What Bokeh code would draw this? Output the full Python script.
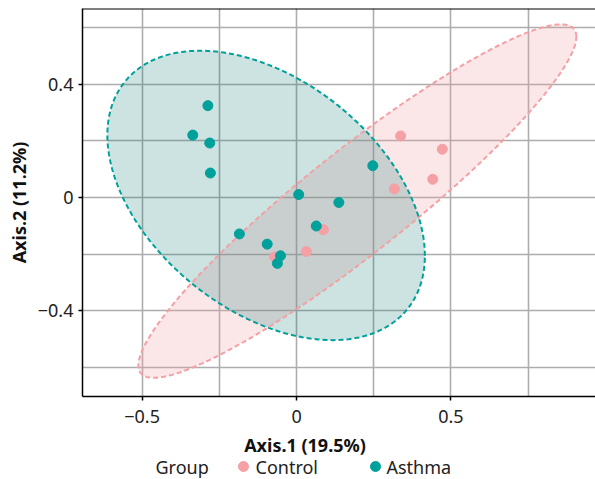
import numpy as np
from bokeh.plotting import figure
from bokeh.layouts import column
from bokeh.models import Range1d, FixedTicker, Span
from bokeh.core.properties import value
from bokeh.embed import file_html
from bokeh.resources import INLINE

# ---- data ----
control_x = [0.337, 0.472, 0.441, 0.317, 0.087, 0.032, -0.071]
control_y = [0.217, 0.170, 0.064, 0.030, -0.114, -0.191, -0.210]
asthma_x = [-0.287, -0.336, -0.281, -0.279, 0.247, 0.007, 0.137, 0.064, -0.185, -0.095, -0.052, -0.062]
asthma_y = [0.324, 0.220, 0.192, 0.086, 0.112, 0.010, -0.018, -0.101, -0.129, -0.165, -0.206, -0.233]

# confidence ellipses: centre x, centre y, x half-extent, y half-extent, correlation
control_ellipse = [0.197, -0.013, 0.709, 0.624, 0.93]
asthma_ellipse = [-0.0985, 0.007, 0.514, 0.511, -0.417]

groups = ["Control", "Asthma"]
x_ticks = [-0.5, 0.0, 0.5]
x_tick_labels = ["\u22120.5", "0", "0.5"]
x_minor = [-0.75, -0.25, 0.25, 0.75]
y_ticks = [-0.4, 0.0, 0.4]
y_tick_labels = ["\u22120.4", "0", "0.4"]
y_minor = [-0.6, -0.2, 0.2, 0.6]
x_title = "Axis.1 (19.5%)"
y_title = "Axis.2 (11.2%)"
legend_title = "Group"

PINK = "#F4A0A5"
TEAL = "#00A19A"
FONT = "Noto Sans"
FS = "18px"


def ellipse_path(params, n=240):
    cx, cy, sx, sy, rho = params
    t = np.linspace(0, 2 * np.pi, n)
    xs = cx + sx * np.cos(t)
    ys = cy + sy * (rho * np.cos(t) + np.sqrt(1 - rho ** 2) * np.sin(t))
    return xs, ys


p = figure(width=595, height=432, output_backend="svg", toolbar_location=None,
           x_range=Range1d(-0.693, 0.968), y_range=Range1d(-0.703, 0.667),
           min_border_left=82, min_border_right=0, min_border_top=8, min_border_bottom=36)
p.outline_line_color = None
p.background_fill_color = "white"
p.border_fill_color = "white"

# ellipses: fills first, then dashed outlines
cx_, cy_ = ellipse_path(control_ellipse)
ax_, ay_ = ellipse_path(asthma_ellipse)
p.patch(cx_, cy_, fill_color=PINK, fill_alpha=0.25, line_color=None)
p.patch(ax_, ay_, fill_color="#00736A", fill_alpha=0.2, line_color=None)
p.line(cx_, cy_, line_color=PINK, line_width=2, line_dash="5 3")
p.line(ax_, ay_, line_color=TEAL, line_width=2, line_dash="5 3")

p.scatter(control_x, control_y, size=10, fill_color=PINK, line_color=PINK)
p.scatter(asthma_x, asthma_y, size=10, fill_color=TEAL, line_color=TEAL)

# axes & grid
p.xaxis.ticker = FixedTicker(ticks=x_ticks, minor_ticks=x_minor)
p.yaxis.ticker = FixedTicker(ticks=y_ticks, minor_ticks=y_minor)
p.xaxis.major_label_overrides = dict(zip(x_ticks, x_tick_labels))
p.yaxis.major_label_overrides = dict(zip(y_ticks, y_tick_labels))
for ax in (p.xaxis, p.yaxis):
    ax.axis_line_color = "black"
    ax.axis_line_width = 1.5
    ax.major_tick_line_color = "black"
    ax.major_tick_line_width = 1.5
    ax.major_tick_out = 4
    ax.major_tick_in = 0
    ax.minor_tick_line_color = None
    ax.major_label_text_font = FONT
    ax.major_label_text_font_size = FS
    ax.major_label_text_color = "#222222"
p.xaxis.major_label_standoff = 9
p.yaxis.major_label_standoff = 5
p.yaxis.axis_label = y_title
p.yaxis.axis_label_text_font = FONT
p.yaxis.axis_label_text_font_size = FS
p.yaxis.axis_label_text_font_style = "bold"
p.yaxis.axis_label_text_color = "#111111"
p.yaxis.axis_label_standoff = 4

for g in (p.xgrid, p.ygrid):
    g.grid_line_color = "#ADADAD"
    g.grid_line_width = 1.6
    g.minor_grid_line_color = "#ADADAD"
    g.minor_grid_line_width = 1.6

p.add_layout(Span(location=0.667, dimension="width", line_color="black", line_width=2))

# strip below the plot with x-axis title and legend
# (its frame is aligned with the main frame, so x is in page pixels)
lg = figure(width=595, height=47, output_backend="svg", toolbar_location=None,
            x_range=Range1d(82, 595), y_range=Range1d(0, 47),
            x_axis_location=None, y_axis_location=None,
            min_border_left=82, min_border_right=0, min_border_top=0, min_border_bottom=0)
lg.outline_line_color = None
lg.grid.visible = False
lg.border_fill_color = "white"
lg.background_fill_color = "white"
lg.text(x=[304.5], y=[35], text=[x_title], text_font=value(FONT), text_font_size=value(FS),
        text_font_style="bold", text_baseline="middle", text_align="center", text_color="#111111")
lg.text(x=[155], y=[13], text=[legend_title], text_font=value(FONT),
        text_font_size=value(FS), text_baseline="middle", text_align="left", text_color="#222222")
lg.scatter(x=[243, 375], y=[13, 13], size=10, fill_color=[PINK, TEAL], line_color=[PINK, TEAL])
lg.text(x=[255, 386], y=[13, 13], text=groups, text_font=value(FONT),
        text_font_size=value(FS), text_baseline="middle", text_align="left", text_color="#222222")

open("out.html", "w").write(file_html(column(p, lg, spacing=0), INLINE))
